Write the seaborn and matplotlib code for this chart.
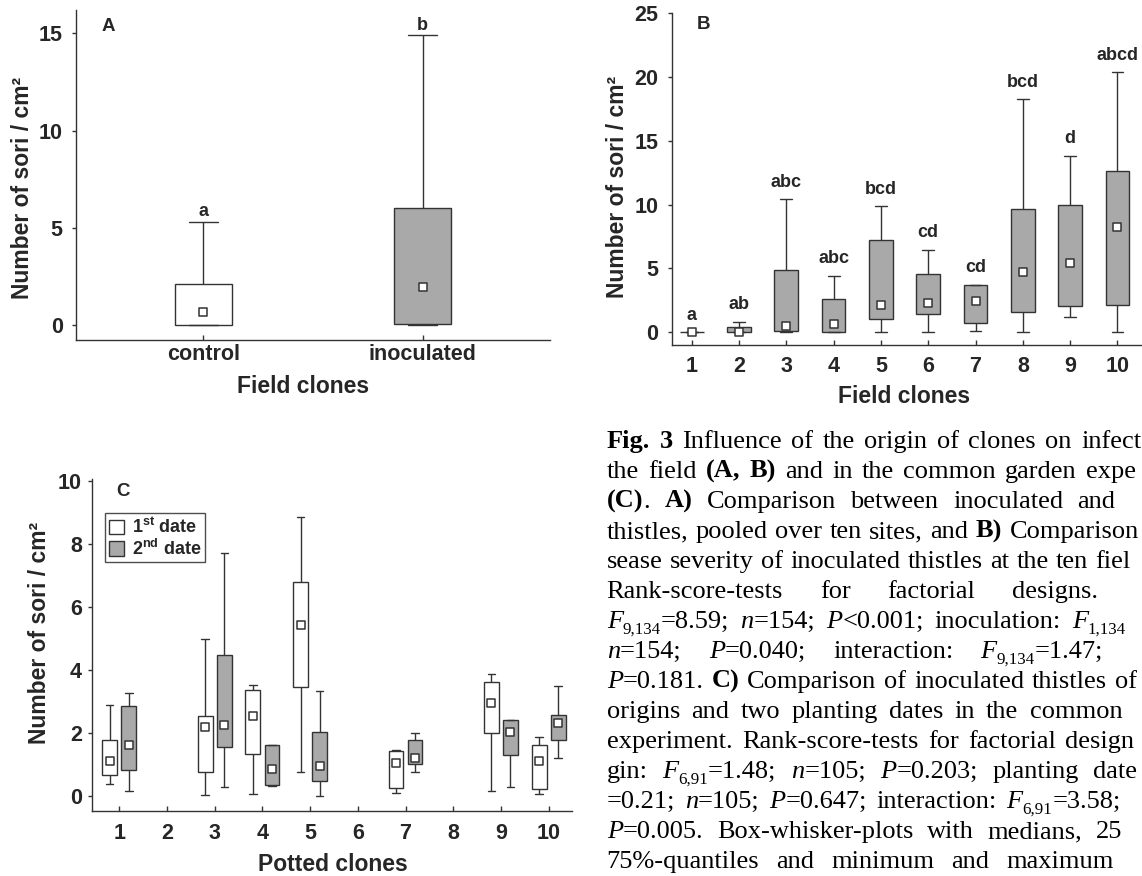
import numpy as np
import pandas as pd
import matplotlib
matplotlib.use("Agg")
import matplotlib.pyplot as plt
import seaborn as sns
from matplotlib.patches import Patch
from matplotlib.font_manager import FontProperties

# ---------------- data ----------------
# Panel A: field clones, control vs inoculated (five-number summaries)
a_groups = ["control", "inoculated"]
a_min = [0.0, 0.0]
a_q1 = [0.0, 0.05]
a_med = [0.65, 1.94]
a_q3 = [2.1, 6.0]
a_max = [5.3, 14.9]
a_letters = ["a", "b"]

# Panel B: ten field clones
b_clones = ["1", "2", "3", "4", "5", "6", "7", "8", "9", "10"]
b_min = [0.0, 0.0, 0.0, 0.0, 0.0, 0.0, 0.1, 0.05, 1.2, 0.0]
b_q1 = [0.0, 0.0, 0.13, 0.0, 1.02, 1.41, 0.75, 1.62, 2.06, 2.14]
b_med = [0.0, 0.0, 0.52, 0.62, 2.14, 2.27, 2.48, 4.70, 5.43, 8.28]
b_q3 = [0.0, 0.39, 4.88, 2.61, 7.26, 4.54, 3.73, 9.66, 9.98, 12.62]
b_max = [0.0, 0.83, 10.45, 4.44, 9.87, 6.47, 3.73, 18.28, 13.84, 20.42]
b_letters = ["a", "ab", "abc", "abc", "bcd", "cd", "cd", "bcd", "d", "abcd"]

# Panel C: potted clones, two planting dates
c_axis_clones = ["1", "2", "3", "4", "5", "6", "7", "8", "9", "10"]
c_clones = ["1", "3", "4", "5", "7", "9", "10"]
c_dates = ["1st", "2nd"]
c1_min = [0.38, 0.03, 0.06, 0.77, 0.08, 0.17, 0.05]
c1_q1 = [0.67, 0.77, 1.33, 3.45, 0.24, 2.01, 0.23]
c1_med = [1.11, 2.18, 2.52, 5.42, 1.03, 2.96, 1.10]
c1_q3 = [1.76, 2.52, 3.35, 6.79, 1.44, 3.61, 1.60]
c1_max = [2.87, 4.98, 3.52, 8.84, 1.47, 3.86, 1.88]
c2_min = [0.17, 0.28, 0.30, 0.01, 0.77, 0.27, 1.20]
c2_q1 = [0.81, 1.56, 0.33, 0.47, 1.02, 1.29, 1.78]
c2_med = [1.60, 2.26, 0.85, 0.95, 1.19, 2.04, 2.30]
c2_q3 = [2.84, 4.48, 1.60, 2.03, 1.76, 2.40, 2.58]
c2_max = [3.27, 7.70, 1.61, 3.32, 2.01, 2.40, 3.48]

a_ticks = [0, 5, 10, 15]
b_ticks = [0, 5, 10, 15, 20, 25]
c_ticks = [0, 2, 4, 6, 8, 10]
y_label = "Number of sori / cm²"
legend_labels = [r"1$^{\mathbf{st}}$ date", r"2$^{\mathbf{nd}}$ date"]

# caption lines: '#' bold, '*' italic, '_' subscript; text after '|' only sets the justification
caption_lines = [
    "#Fig. 3# Influence of the origin of clones on infection| in",
    "the field #(A, B)# and in the common garden experiment",
    "#(C)#. #A)# Comparison between inoculated and control",
    "thistles, pooled over ten sites, and #B)# Comparison| of di-",
    "sease severity of inoculated thistles at the ten field| sites.",
    "Rank-score-tests for factorial designs. Clone:",
    "*F*_9,134_=8.59; *n*=154; *P*<0.001; inoculation: *F*_1,134_| =0.00;",
    "*n*=154; *P*=0.040; interaction: *F*_9,134_=1.47; *n*=154;",
    "*P*=0.181. #C)# Comparison of inoculated thistles of| seven",
    "origins and two planting dates in the common garden",
    "experiment. Rank-score-tests for factorial designs.| Ori-",
    "gin: *F*_6,91_=1.48; *n*=105; *P*=0.203; planting date:| *F*_1,91_",
    "=0.21; *n*=105; *P*=0.647; interaction: *F*_6,91_=3.58; *n*=105;",
    "*P*=0.005. Box-whisker-plots with medians, 25%-| and",
    "75%-quantiles and minimum and maximum values.",
]

# ---------------- style ----------------
sns.set_style("ticks")
plt.rcParams["font.family"] = ["Liberation Sans", "DejaVu Sans"]
plt.rcParams["mathtext.fontset"] = "custom"
plt.rcParams["mathtext.bf"] = "Liberation Sans:bold"
plt.rcParams["mathtext.rm"] = "Liberation Sans:bold"

GRAY = "#a9a9a9"
EDGE = "#333333"
W, H = 1142, 876
TICK_FS = 15.5
LAB_FS = 16.5
LET_FS = 13

fig = plt.figure(figsize=(W / 100, H / 100), dpi=100)
fig.patch.set_facecolor("white")


def px_axes(left, top, right, bottom):
    return fig.add_axes([left / W, 1 - bottom / H, (right - left) / W, (bottom - top) / H])


axA = px_axes(76, 10, 550, 340)
axB = px_axes(671.7, 13.3, 1160, 345)
axC = px_axes(92.3, 479.3, 572, 811)


def five_frame(cats, mins, q1s, meds, q3s, maxs, date=None):
    rows = []
    for c, lo, a, m, b, hi in zip(cats, mins, q1s, meds, q3s, maxs):
        for v in (lo, a, m, b, hi):
            r = {"cat": c, "value": v}
            if date is not None:
                r["date"] = date
            rows.append(r)
    return pd.DataFrame(rows)


box_common = dict(whis=(0, 100), linecolor=EDGE, linewidth=1.0, saturation=1,
                  medianprops={"visible": False}, showfliers=False)

# ---- Panel A ----
dfA = five_frame(a_groups, a_min, a_q1, a_med, a_q3, a_max)
sns.boxplot(data=dfA, x="cat", y="value", hue="cat", order=a_groups,
            palette={"control": "white", "inoculated": GRAY}, width=0.26,
            legend=False, ax=axA, **box_common)
sns.stripplot(x=a_groups, y=a_med, order=a_groups, jitter=False, marker="s",
              size=5.5, color="white", edgecolor=EDGE, linewidth=1.1, ax=axA, zorder=4)
for i, (m, l) in enumerate(zip(a_max, a_letters)):
    axA.annotate(l, (i, m), xytext=(0, 4), textcoords="offset points", ha="center",
                 va="baseline", fontsize=LET_FS, fontweight="bold")
axA.set_xlim(-0.58, 1.58)
axA.set_ylim(-0.77, 16.2)
axA.set_yticks(a_ticks)

# ---- Panel B ----
dfB = five_frame(b_clones, b_min, b_q1, b_med, b_q3, b_max)
sns.boxplot(data=dfB, x="cat", y="value", order=b_clones, color=GRAY, width=0.5,
            ax=axB, **box_common)
sns.stripplot(x=b_clones, y=b_med, order=b_clones, jitter=False, marker="s",
              size=5.5, color="white", edgecolor=EDGE, linewidth=1.1, ax=axB, zorder=4)
for i, (m, l) in enumerate(zip(b_max, b_letters)):
    axB.annotate(l, (i, m), xytext=(0, 8.8), textcoords="offset points", ha="center",
                 va="baseline", fontsize=LET_FS, fontweight="bold")
axB.set_xlim(-0.423, 9.9)
axB.set_ylim(-1.0, 25)
axB.set_yticks(b_ticks)

# ---- Panel C ----
dfC = pd.concat([
    five_frame(c_clones, c1_min, c1_q1, c1_med, c1_q3, c1_max, date=c_dates[0]),
    five_frame(c_clones, c2_min, c2_q1, c2_med, c2_q3, c2_max, date=c_dates[1]),
], ignore_index=True)
medC = pd.DataFrame({"cat": c_clones * 2, "med": c1_med + c2_med,
                     "date": [c_dates[0]] * len(c_clones) + [c_dates[1]] * len(c_clones)})
sns.boxplot(data=dfC, x="cat", y="value", hue="date", order=c_axis_clones,
            hue_order=c_dates, palette={c_dates[0]: "white", c_dates[1]: GRAY},
            width=0.8, gap=0.22, legend=False, ax=axC, **box_common)
sns.stripplot(data=medC, x="cat", y="med", hue="date", order=c_axis_clones,
              hue_order=c_dates, palette={c_dates[0]: "white", c_dates[1]: "white"},
              dodge=True, jitter=False, marker="s", size=5.5, edgecolor=EDGE,
              linewidth=1.1, legend=False, ax=axC, zorder=4)
axC.set_xlim(-0.566, 9.49)
axC.set_ylim(-0.48, 10.05)
axC.set_yticks(c_ticks)

handles = [Patch(facecolor="white", edgecolor=EDGE, linewidth=1.0),
           Patch(facecolor=GRAY, edgecolor=EDGE, linewidth=1.0)]
leg = axC.legend(handles, legend_labels, loc="upper left",
                 bbox_to_anchor=(0.0265, 0.8975), borderaxespad=0, frameon=True,
                 fancybox=False, edgecolor="#222222",
                 prop={"weight": "bold", "size": 13}, handlelength=0.85,
                 handleheight=0.85, handletextpad=0.45, borderpad=0.2,
                 labelspacing=0.08)
leg.get_frame().set_linewidth(1.0)

# ---- shared axis styling ----
for ax, xl, letter, lxy, ylc, xlc, xpad, ypad in [
    (axA, "Field clones", "A", (0.0675, 0.949), (-0.113, 0.46), (0.48, -0.161), 3.0, 6.5),
    (axB, "Field clones", "B", (0.0647, 0.965), (-0.11, 0.477), (0.475, -0.175), 8.0, 6.5),
    (axC, "Potted clones", "C", (0.0646, 0.963), (-0.111, 0.538), (0.502, -0.181), 8.5, 4.5),
]:
    sns.despine(ax=ax)
    for s in ("left", "bottom"):
        ax.spines[s].set_color(EDGE)
        ax.spines[s].set_linewidth(1.0)
    ax.tick_params(axis="x", direction="in", length=3.5, width=1.0, color=EDGE,
                   pad=xpad, labelsize=TICK_FS)
    ax.tick_params(axis="y", direction="out", length=3, width=1.0, color=EDGE,
                   pad=ypad, labelsize=TICK_FS)
    for lab in ax.get_xticklabels() + ax.get_yticklabels():
        lab.set_fontweight("bold")
    ax.set_xlabel(xl, fontsize=LAB_FS, fontweight="bold")
    ax.set_ylabel(y_label, fontsize=LAB_FS, fontweight="bold")
    ax.xaxis.label.set_va("baseline")
    ax.xaxis.set_label_coords(*xlc)
    ax.yaxis.label.set_va("center")
    ax.yaxis.set_label_coords(*ylc)
    ax.text(lxy[0], lxy[1], letter, transform=ax.transAxes, fontsize=13.5,
            fontweight="bold", ha="center", va="center")
    ax.set_facecolor("white")

# ---------------- caption (justified column, cut by the page edge) ----------------
CAP_SIZE = 19
CAP_LEFT = 606.7
CAP_RIGHT = 1205
CAP_BASE0 = 448.0
CAP_LEAD = 30.0
SUB_SCALE = 0.64
EM = CAP_SIZE * 100 / 72
renderer = fig.canvas.get_renderer()


def parse(text):
    words, cur, buf = [], [], []
    st = {"b": False, "i": False, "s": False}

    def flush():
        if buf:
            cur.append(("".join(buf), st["b"], st["i"], st["s"]))
            buf.clear()

    for ch in text:
        if ch == "#":
            flush(); st["b"] = not st["b"]
        elif ch == "*":
            flush(); st["i"] = not st["i"]
        elif ch == "_":
            flush(); st["s"] = not st["s"]
        elif ch == " ":
            flush()
            if cur:
                words.append(list(cur)); cur.clear()
        else:
            buf.append(ch)
    flush()
    if cur:
        words.append(list(cur))
    return words


def fprop(b, i, s):
    return FontProperties(family="Liberation Serif", weight="bold" if b else "normal",
                          style="italic" if i else "normal",
                          size=CAP_SIZE * (SUB_SCALE if s else 1.0))


def str_w(s, fp):
    w, _, _ = renderer.get_text_width_height_descent(s, fp, ismath=False)
    return w


def run_w(r):
    return str_w(r[0], fprop(r[1], r[2], r[3]))


for li, line in enumerate(caption_lines):
    shown, _, hidden = line.partition("|")
    shown_words = parse(shown)
    all_words = shown_words + parse(hidden)
    widths = [sum(run_w(r) for r in w) for w in all_words]
    gap = (CAP_RIGHT - CAP_LEFT - sum(widths)) / max(len(all_words) - 1, 1)
    gap = max(gap, 0.2 * EM)
    y = CAP_BASE0 + li * CAP_LEAD
    x = CAP_LEFT
    for wi, w in enumerate(shown_words):
        xr = x
        for r in w:
            fp = fprop(r[1], r[2], r[3])
            s = r[0]
            # the page is cut at the right edge: keep only the glyphs that fit
            while s and xr + str_w(s, fp) > W - 0.5:
                s = s[:-1]
            if s:
                dy = 0.22 * EM if r[3] else 0.0
                fig.text(xr / W, 1 - (y + dy) / H, s, fontproperties=fp,
                         ha="left", va="baseline", color="black")
            xr += run_w(r)
        x += widths[wi] + gap

fig.savefig("out.png", dpi=100, facecolor="white")
